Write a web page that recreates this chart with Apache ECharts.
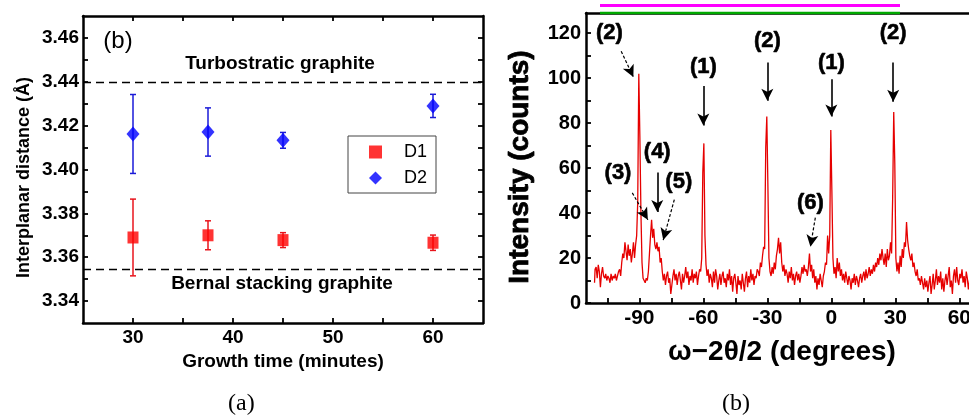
<!DOCTYPE html>
<html>
<head>
<meta charset="utf-8">
<script src="https://cdn.jsdelivr.net/npm/echarts@6/dist/echarts.min.js"></script>
<style>
  html, body { margin: 0; padding: 0; background: #ffffff; }
  #chart { width: 969px; height: 419px; }
</style>
</head>
<body>
<div id="chart"></div>
<script>
// ---- Panel (a): interplanar distance against growth time ----
const growthTimes = [30, 37.5, 45, 60];
const d1Values = [3.369, 3.370, 3.3678, 3.3666];
const d1Errors = [0.0175, 0.0066, 0.0034, 0.0035];
const d2Values = [3.4162, 3.4171, 3.4133, 3.4290];
const d2Errors = [0.018, 0.011, 0.0036, 0.0053];
const turbostraticLevel = 3.44;
const bernalLevel = 3.3545;
const timeTicks = [30, 35, 40, 45, 50, 55, 60];
const timeLabels = [30, 40, 50, 60];
const distanceTicks = [3.34, 3.35, 3.36, 3.37, 3.38, 3.39, 3.40, 3.41, 3.42, 3.43, 3.44, 3.45, 3.46];
const distanceLabels = [3.34, 3.36, 3.38, 3.40, 3.42, 3.44, 3.46];

// ---- Panel (b): omega-2theta/2 scan, counts every 0.5 degree from -111 ----
const scanStart = -111;
const scanStep = 0.5;
const scanCounts = [
  9, 15, 16, 11, 17, 14, 7, 13, 16, 12,        // -111
  11, 13, 10, 12, 11, 9, 13, 10, 12, 11,       // -106
  13, 10, 12, 14, 15, 12, 18, 22, 20, 27,      // -101
  23, 19, 26, 21, 24, 18, 22, 27, 20, 26,      // -96
  30, 45, 102, 74, 40, 18, 11, 10, 9, 11,      // -91
  10, 14, 22, 30, 37, 29, 33, 26, 24, 27,      // -86
  23, 25, 18, 20, 14, 10, 13, 8, 12, 14,       // -81
  9, 11, 4, 8, 12, 15, 10, 13, 8, 12,          // -76
  14, 10, 6, 13, 9, 12, 16, 11, 14, 8,         // -71
  12, 10, 15, 9, 13, 11, 14, 8, 12, 15,        // -66
  14, 20, 58, 71, 30, 17, 12, 15, 9, 13,       // -61
  11, 7, 14, 9, 15, 12, 6, 10, 13, 8,          // -56
  12, 14, 9, 11, 7, 13, 10, 15, 8, 12,         // -51
  5, 11, 13, 9, 4, 12, 8, 10, 6, 13,           // -46
  9, 5, 11, 14, 7, 12, 9, 15, 10, 13,          // -41
  8, 12, 11, 15, 14, 12, 18, 16, 21, 25,       // -36
  24, 69, 83, 53, 20, 14, 12, 16, 13, 18,      // -31
  15, 21, 24, 29, 22, 27, 18, 14, 17, 12,      // -26
  15, 13, 9, 14, 11, 16, 10, 13, 8, 12,        // -21
  14, 10, 13, 9, 12, 16, 13, 17, 14, 15,       // -16
  12, 16, 22, 14, 17, 11, 15, 9, 12, 6,        // -11
  11, 8, 13, 10, 7, 12, 14, 18, 17, 30,        // -6
  22, 30, 77, 50, 20, 13, 16, 11, 20, 14,      // -1
  18, 12, 15, 10, 13, 9, 14, 11, 8, 12,        // 4
  10, 6, 11, 9, 13, 8, 12, 10, 7, 11,          // 9
  13, 9, 12, 14, 10, 15, 11, 13, 16, 12,       // 14
  15, 13, 17, 14, 18, 16, 20, 17, 22, 19,      // 19
  24, 20, 17, 22, 16, 24, 19, 21, 27, 22,      // 24
  47, 85, 62, 20, 14, 18, 13, 21, 16, 24,      // 29
  20, 27, 25, 36, 28, 24, 21, 19, 22, 16,      // 34
  18, 14, 12, 15, 10, 11, 8, 12, 9, 6,         // 39
  11, 7, 10, 5, 9, 12, 4, 8, 13, 6,            // 44
  10, 15, 8, 12, 9, 14, 6, 11, 5, 10,          // 49
  13, 8, 12, 16, 7, 10, 4, 12, 15, 9,          // 54
  16, 10, 8, 13, 11, 15, 9, 12, 7, 14,         // 59
  11, 6, 10, 13, 8, 15, 10, 12, 16, 9,         // 64
  13, 10, 15, 12, 16, 11, 14, 9, 13, 15,       // 69
  10, 12, 14, 8, 11, 15, 10, 13, 9, 12,        // 74
  14, 10, 12                                   // 79
];
const angleMin = -115;
const angleMax = 80;
const countMax = 129;
const angleTicks = [-105, -90, -75, -60, -45, -30, -15, 0, 15, 30, 45, 60, 75];
const angleLabels = [-90, -60, -30, 0, 30, 60];
const countTicks = [0, 10, 20, 30, 40, 50, 60, 70, 80, 90, 100, 110, 120];
const countLabels = [0, 20, 40, 60, 80, 100, 120];

// Peak assignments: label anchor and arrow (tail -> head) in data units
const peakNotes = [
  { text: '(2)', at: [-104, 120],   tail: [-98.5, 112], head: [-92.8, 100.5], dashed: true },
  { text: '(1)', at: [-60, 105],    tail: [-60, 96.5],  head: [-60, 79],      dashed: false },
  { text: '(2)', at: [-30, 116.5],  tail: [-30, 107],   head: [-30, 90],      dashed: false },
  { text: '(1)', at: [0, 107],      tail: [0, 99.5],    head: [0, 83],        dashed: false },
  { text: '(2)', at: [29, 120],     tail: [29, 107],    head: [29, 89.5],     dashed: false },
  { text: '(3)', at: [-100, 58],    tail: [-93.3, 49],  head: [-86, 37],      dashed: true },
  { text: '(4)', at: [-81.6, 67],   tail: [-81.6, 58],  head: [-81.6, 40.5],  dashed: false },
  { text: '(5)', at: [-71.5, 54],   tail: [-73.6, 46],  head: [-78.8, 28],    dashed: true },
  { text: '(6)', at: [-9.8, 44.5],  tail: [-7.5, 38],   head: [-9.8, 25],     dashed: true }
];

const FONT = 'Liberation Sans, Arial, sans-serif';
const SERIF = 'Liberation Serif, Times New Roman, serif';
const scanData = scanCounts.map((c, i) => [scanStart + i * scanStep, c]);
const d1Bars = growthTimes.map((t, i) => [t, d1Values[i] - d1Errors[i], d1Values[i] + d1Errors[i]]);
const d2Bars = growthTimes.map((t, i) => [t, d2Values[i] - d2Errors[i], d2Values[i] + d2Errors[i]]);

function errorBars(color) {
  return function (params, api) {
    const x = api.value(0);
    const lo = api.coord([x, api.value(1)]);
    const hi = api.coord([x, api.value(2)]);
    const cap = 3;
    const style = { stroke: color, lineWidth: 1.5 };
    return {
      type: 'group',
      children: [
        { type: 'line', shape: { x1: lo[0], y1: lo[1], x2: hi[0], y2: hi[1] }, style: style },
        { type: 'line', shape: { x1: lo[0] - cap, y1: lo[1], x2: lo[0] + cap, y2: lo[1] }, style: style },
        { type: 'line', shape: { x1: hi[0] - cap, y1: hi[1], x2: hi[0] + cap, y2: hi[1] }, style: style }
      ]
    };
  };
}

const frameLine = { onZero: false, lineStyle: { color: '#000', width: 2.5 } };
const innerTick = (vals, len) => ({ show: true, inside: true, length: len, customValues: vals, lineStyle: { color: '#000', width: 1.8 } });
const boldLabel = (vals, size, margin, fmt) => ({
  show: true, customValues: vals, fontSize: size, fontWeight: 'bold', color: '#000',
  fontFamily: FONT, margin: margin, formatter: fmt
});

const chart = echarts.init(document.getElementById('chart'), null, { renderer: 'canvas' });

chart.setOption({
  animation: false,
  backgroundColor: '#ffffff',
  grid: [
    { left: 83, top: 16, width: 400, height: 307, outerBoundsMode: 'none', containLabel: false },
    { left: 586, top: 13, width: 416, height: 290, outerBoundsMode: 'none', containLabel: false }
  ],
  legend: {
    data: ['D1', 'D2'],
    orient: 'vertical',
    left: 348, top: 136,
    padding: [7, 9, 6, 21],
    itemWidth: 13, itemHeight: 13, itemGap: 8,
    borderColor: '#444', borderWidth: 1,
    textStyle: { fontSize: 18, fontFamily: FONT, color: '#000', padding: [0, 0, 0, 17] }
  },
  xAxis: [
    {
      gridIndex: 0, type: 'value', min: 25, max: 65, position: 'bottom',
      axisLine: frameLine, axisTick: innerTick(timeTicks, 5),
      axisLabel: boldLabel(timeLabels, 19, 5), splitLine: { show: false },
      name: 'Growth time (minutes)', nameLocation: 'middle', nameGap: 22,
      nameTextStyle: { fontSize: 19, fontWeight: 'bold', fontFamily: FONT, color: '#000' }
    },
    {
      gridIndex: 0, type: 'value', min: 25, max: 65, position: 'top',
      axisLine: frameLine, axisTick: innerTick(timeTicks, 5),
      axisLabel: { show: false }, splitLine: { show: false }
    },
    {
      gridIndex: 1, type: 'value', min: angleMin, max: angleMax, position: 'bottom',
      axisLine: frameLine, axisTick: innerTick(angleTicks, 5),
      axisLabel: boldLabel(angleLabels, 21, 5), splitLine: { show: false },
      name: 'ω−2θ/2 (degrees)', nameLocation: 'middle', nameGap: 35,
      nameTextStyle: { fontSize: 28, fontWeight: 'bold', fontFamily: FONT, color: '#000',
                       padding: [0, 24, 0, 0] }
    },
    {
      gridIndex: 1, type: 'value', min: angleMin, max: angleMax, position: 'top',
      axisLine: frameLine, axisTick: { show: false },
      axisLabel: { show: false }, splitLine: { show: false }
    }
  ],
  yAxis: [
    {
      gridIndex: 0, type: 'value', min: 3.33, max: 3.47, position: 'left',
      axisLine: frameLine, axisTick: innerTick(distanceTicks, 5),
      axisLabel: boldLabel(distanceLabels, 19, 4, v => v.toFixed(2)), splitLine: { show: false },
      name: 'Interplanar distance (Å)', nameLocation: 'middle', nameGap: 50,
      nameTextStyle: { fontSize: 18, fontWeight: 'bold', fontFamily: FONT, color: '#000',
                       padding: [0, 16, 0, 0] }
    },
    {
      gridIndex: 0, type: 'value', min: 3.33, max: 3.47, position: 'right',
      axisLine: frameLine, axisTick: innerTick(distanceTicks, 5),
      axisLabel: { show: false }, splitLine: { show: false }
    },
    {
      gridIndex: 1, type: 'value', min: 0, max: countMax, position: 'left',
      axisLine: frameLine, axisTick: innerTick(countTicks, 5),
      axisLabel: boldLabel(countLabels, 20, 5), splitLine: { show: false },
      name: 'Intensity (counts)', nameLocation: 'middle', nameGap: 52,
      nameTextStyle: { fontSize: 28, fontWeight: 'bold', fontFamily: FONT, color: '#000',
                       textBorderColor: '#000', textBorderWidth: 0.8, padding: [0, 18, 0, 0] }
    }
  ],
  series: [
    {
      type: 'custom', name: 'D1 error', xAxisIndex: 0, yAxisIndex: 0,
      renderItem: errorBars('#e8141c'), data: d1Bars, encode: { x: 0, y: [1, 2] }, z: 2
    },
    {
      type: 'custom', name: 'D2 error', xAxisIndex: 0, yAxisIndex: 0,
      renderItem: errorBars('#1a1ad8'), data: d2Bars, encode: { x: 0, y: [1, 2] }, z: 2
    },
    {
      type: 'scatter', name: 'D1', xAxisIndex: 0, yAxisIndex: 0,
      symbol: 'rect', symbolSize: [11, 12], itemStyle: { color: '#ff0000' },
      data: growthTimes.map((t, i) => [t, d1Values[i]]), z: 3,
      markLine: {
        silent: true, symbol: ['none', 'none'], label: { show: false }, precision: 4,
        lineStyle: { color: '#000', width: 1.3, type: [8, 5] },
        data: [{ yAxis: turbostraticLevel }, { yAxis: bernalLevel }]
      }
    },
    {
      type: 'scatter', name: 'D2', xAxisIndex: 0, yAxisIndex: 0,
      symbol: 'diamond', symbolSize: [13, 15], itemStyle: { color: '#0000ff' },
      data: growthTimes.map((t, i) => [t, d2Values[i]]), z: 3,
      markPoint: {
        silent: true, symbol: 'circle', symbolSize: 0,
        label: { show: true, position: 'inside', formatter: '{b}', color: '#000', fontFamily: FONT },
        data: [
          { name: '(b)', coord: [28.5, 3.4586], label: { fontSize: 24 } },
          { name: 'Turbostratic graphite', coord: [44.7, 3.4481], label: { fontSize: 19, fontWeight: 'bold' } },
          { name: 'Bernal stacking graphite', coord: [44.9, 3.3478], label: { fontSize: 19, fontWeight: 'bold' } }
        ]
      }
    },
    {
      type: 'line', name: 'scan', xAxisIndex: 2, yAxisIndex: 2,
      data: scanData, step: 'middle', showSymbol: false, symbol: 'none',
      lineStyle: { color: '#e60000', width: 1.3 }, z: 2,
      markLine: {
        silent: true, symbol: ['none', 'arrow'], symbolSize: [9, 12], label: { show: false },
        data: peakNotes.map(n => [
          { coord: n.tail, lineStyle: { color: '#000', width: n.dashed ? 1.2 : 1.6, type: n.dashed ? [3, 2] : 'solid' } },
          { coord: n.head }
        ])
      },
      markPoint: {
        silent: true, symbol: 'circle', symbolSize: 0,
        label: { show: true, position: 'inside', formatter: '{b}', color: '#000', fontFamily: FONT,
                 fontSize: 22, fontWeight: 'bold', textBorderColor: '#000', textBorderWidth: 0.6 },
        data: peakNotes.map(n => ({ name: n.text, coord: n.at }))
      }
    }
  ],
  graphic: [
    { type: 'rect', shape: { x: 600, y: 11.75, width: 300, height: 2.5 }, style: { fill: '#0a0' }, z: 100 },
    { type: 'rect', shape: { x: 600, y: 4, width: 300, height: 3 }, style: { fill: '#f0f' }, z: 100 },
    { type: 'text', left: 228, top: 392, style: { text: '(a)', fontSize: 24, fontFamily: SERIF, fill: '#000' } },
    { type: 'text', left: 722, top: 392, style: { text: '(b)', fontSize: 24, fontFamily: SERIF, fill: '#000' } }
  ]
});
</script>
</body>
</html>
